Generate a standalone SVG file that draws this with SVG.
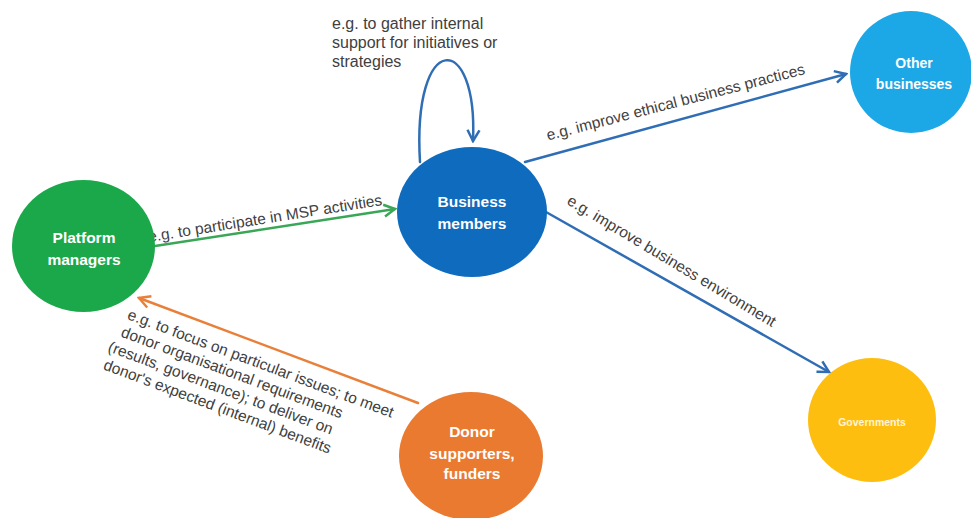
<svg xmlns="http://www.w3.org/2000/svg" width="971" height="518" viewBox="0 0 971 518">
  <defs>
    <style>
      .lbl { font-family: "Liberation Sans", Arial, sans-serif; font-size: 15.5px; fill: #404040; }
      .loop { font-size: 16px; }
      .node-text { font-family: "Liberation Sans", Arial, sans-serif; font-weight: bold; font-size: 15.5px; fill: #ffffff; text-anchor: middle; }
      .conn { fill: none; stroke-width: 2.5; stroke-linecap: round; }
    </style>
    <marker id="arrGreen" markerUnits="userSpaceOnUse" markerWidth="16" markerHeight="16" viewBox="0 0 16 16" refX="14" refY="8" orient="auto">
      <path d="M3,2 L14,8 L3,14" fill="none" stroke="#3AA757" stroke-width="2.5"/>
    </marker>
    <marker id="arrBlue" markerUnits="userSpaceOnUse" markerWidth="16" markerHeight="16" viewBox="0 0 16 16" refX="14" refY="8" orient="auto">
      <path d="M3,2 L14,8 L3,14" fill="none" stroke="#2F6DB5" stroke-width="2.5"/>
    </marker>
    <marker id="arrOrange" markerUnits="userSpaceOnUse" markerWidth="16" markerHeight="16" viewBox="0 0 16 16" refX="14" refY="8" orient="auto">
      <path d="M3,2 L14,8 L3,14" fill="none" stroke="#E9803A" stroke-width="2.5"/>
    </marker>
  </defs>
  <rect width="971" height="518" fill="#ffffff"/>

  <g id="connectors">
    <g id="edge-platform-business">
      <line class="conn" x1="155" y1="246" x2="395" y2="209" stroke="#3AA757" marker-end="url(#arrGreen)"/>
      <text class="lbl" transform="translate(149,242) rotate(-9)">e.g. to participate in MSP activities</text>
    </g>
    <g id="edge-business-self">
      <path class="conn" d="M420,162 C412,30 478,30 473,141" stroke="#2F6DB5" marker-end="url(#arrBlue)"/>
      <text class="lbl loop" x="332" y="29">e.g. to gather internal</text>
      <text class="lbl loop" x="332" y="48">support for initiatives or</text>
      <text class="lbl loop" x="332" y="67">strategies</text>
    </g>
    <g id="edge-business-other">
      <line class="conn" x1="525" y1="162" x2="846" y2="74" stroke="#2F6DB5" marker-end="url(#arrBlue)"/>
      <text class="lbl" transform="translate(548,140.5) rotate(-14.5)">e.g. improve ethical business practices</text>
    </g>
    <g id="edge-business-government">
      <line class="conn" x1="546" y1="212" x2="829" y2="372" stroke="#2F6DB5" marker-end="url(#arrBlue)"/>
      <text class="lbl" transform="translate(566,203.5) rotate(31)">e.g. improve business environment</text>
    </g>
    <g id="edge-donor-platform">
      <line class="conn" x1="418" y1="403" x2="139" y2="298" stroke="#E9803A" marker-end="url(#arrOrange)"/>
      <g transform="translate(126.6,318.8) rotate(20.5)">
        <text class="lbl" x="0" y="0">e.g. to focus on particular issues; to meet</text>
        <text class="lbl" x="0" y="18.5">donor organisational requirements</text>
        <text class="lbl" x="-7" y="37">(results, governance); to deliver on</text>
        <text class="lbl" x="-5" y="55.5">donor's expected (internal) benefits</text>
      </g>
    </g>
  </g>

  <g id="node-platform">
    <ellipse cx="83.5" cy="246" rx="71.5" ry="66" fill="#1BA84B"/>
    <text class="node-text" x="84" y="243">Platform</text>
    <text class="node-text" x="84" y="265">managers</text>
  </g>
  <g id="node-business">
    <ellipse cx="472" cy="212" rx="75" ry="65" fill="#0E6BBE"/>
    <text class="node-text" x="472" y="207">Business</text>
    <text class="node-text" x="472" y="229">members</text>
  </g>
  <g id="node-other">
    <ellipse cx="911" cy="72" rx="61" ry="61" fill="#1CA7E6"/>
    <text class="node-text" x="914" y="68" style="font-size:14px">Other</text>
    <text class="node-text" x="914" y="89" style="font-size:14px">businesses</text>
  </g>
  <g id="node-governments">
    <ellipse cx="872" cy="420" rx="64" ry="62" fill="#FDBE10"/>
    <text class="node-text" x="872" y="426" style="font-size:10.5px;fill:#FFF4D6">Governments</text>
  </g>
  <g id="node-donor">
    <ellipse cx="471" cy="456" rx="72" ry="64" fill="#EA7A30"/>
    <text class="node-text" x="472" y="437">Donor</text>
    <text class="node-text" x="472" y="459">supporters,</text>
    <text class="node-text" x="472" y="479">funders</text>
  </g>
</svg>
